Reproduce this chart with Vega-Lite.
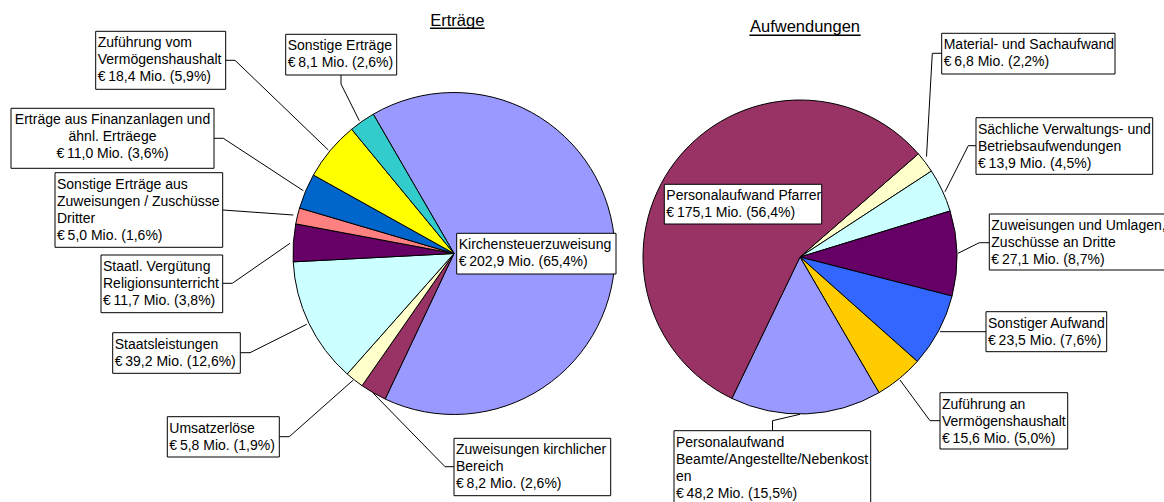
{
  "$schema": "https://vega.github.io/schema/vega-lite/v6.json",
  "width": 1164,
  "height": 502,
  "autosize": {"type": "none"},
  "padding": 0,
  "background": "white",
  "config": {"view": {"stroke": null}, "font": "Liberation Sans"},
  "datasets": {
    "slices": [
      {"pie": "Erträge", "name": "Kirchensteuerzuweisung", "value": 202.9, "pct": 65.4, "ord": 1, "label": "Kirchensteuerzuweisung\n€\u2009202,9 Mio. (65,4%)"},
      {"pie": "Erträge", "name": "Zuweisungen kirchlicher Bereich", "value": 8.2, "pct": 2.6, "ord": 2, "label": "Zuweisungen kirchlicher\nBereich\n€\u20098,2 Mio. (2,6%)"},
      {"pie": "Erträge", "name": "Umsatzerlöse", "value": 5.8, "pct": 1.9, "ord": 3, "label": "Umsatzerlöse\n€\u20095,8 Mio. (1,9%)"},
      {"pie": "Erträge", "name": "Staatsleistungen", "value": 39.2, "pct": 12.6, "ord": 4, "label": "Staatsleistungen\n€\u200939,2 Mio. (12,6%)"},
      {"pie": "Erträge", "name": "Staatl. Vergütung Religionsunterricht", "value": 11.7, "pct": 3.8, "ord": 5, "label": "Staatl. Vergütung\nReligionsunterricht\n€\u200911,7 Mio. (3,8%)"},
      {"pie": "Erträge", "name": "Sonstige Erträge aus Zuweisungen / Zuschüsse Dritter", "value": 5.0, "pct": 1.6, "ord": 6, "label": "Sonstige Erträge aus\nZuweisungen / Zuschüsse\nDritter\n€\u20095,0 Mio. (1,6%)"},
      {"pie": "Erträge", "name": "Erträge aus Finanzanlagen und ähnl. Erträege", "value": 11.0, "pct": 3.6, "ord": 7, "label": "Erträge aus Finanzanlagen und\nähnl. Erträege\n€\u200911,0 Mio. (3,6%)"},
      {"pie": "Erträge", "name": "Zuführung vom Vermögenshaushalt", "value": 18.4, "pct": 5.9, "ord": 8, "label": "Zuführung vom\nVermögenshaushalt\n€\u200918,4 Mio. (5,9%)"},
      {"pie": "Erträge", "name": "Sonstige Erträge", "value": 8.1, "pct": 2.6, "ord": 9, "label": "Sonstige Erträge\n€\u20098,1 Mio. (2,6%)"},
      {"pie": "Aufwendungen", "name": "Material- und Sachaufwand", "value": 6.8, "pct": 2.2, "ord": 1, "label": "Material- und Sachaufwand\n€\u20096,8 Mio. (2,2%)"},
      {"pie": "Aufwendungen", "name": "Sächliche Verwaltungs- und Betriebsaufwendungen", "value": 13.9, "pct": 4.5, "ord": 2, "label": "Sächliche Verwaltungs- und\nBetriebsaufwendungen\n€\u200913,9 Mio. (4,5%)"},
      {"pie": "Aufwendungen", "name": "Zuweisungen und Umlagen, Zuschüsse an Dritte", "value": 27.1, "pct": 8.7, "ord": 3, "label": "Zuweisungen und Umlagen,\nZuschüsse an Dritte\n€\u200927,1 Mio. (8,7%)"},
      {"pie": "Aufwendungen", "name": "Sonstiger Aufwand", "value": 23.5, "pct": 7.6, "ord": 4, "label": "Sonstiger Aufwand\n€\u200923,5 Mio. (7,6%)"},
      {"pie": "Aufwendungen", "name": "Zuführung an Vermögenshaushalt", "value": 15.6, "pct": 5.0, "ord": 5, "label": "Zuführung an\nVermögenshaushalt\n€\u200915,6 Mio. (5,0%)"},
      {"pie": "Aufwendungen", "name": "Personalaufwand Beamte/Angestellte/Nebenkosten", "value": 48.2, "pct": 15.5, "ord": 6, "label": "Personalaufwand\nBeamte/Angestellte/Nebenkost\nen\n€\u200948,2 Mio. (15,5%)"},
      {"pie": "Aufwendungen", "name": "Personalaufwand Pfarrer", "value": 175.1, "pct": 56.4, "ord": 7, "label": "Personalaufwand Pfarrer\n€\u2009175,1 Mio. (56,4%)"}
    ],
    "callouts": [
      {"name": "Kirchensteuerzuweisung", "x1": 456.7, "x2": 616, "y1": 233.3, "y2": 274, "tx": 458.7},
      {"name": "Zuweisungen kirchlicher Bereich", "x1": 454, "x2": 610.7, "y1": 438.3, "y2": 495.7, "tx": 456},
      {"name": "Umsatzerlöse", "x1": 167.3, "x2": 279.3, "y1": 416.7, "y2": 457, "tx": 169.3},
      {"name": "Staatsleistungen", "x1": 112.7, "x2": 240.3, "y1": 332.7, "y2": 373.3, "tx": 114.7},
      {"name": "Staatl. Vergütung Religionsunterricht", "x1": 101, "x2": 222.7, "y1": 255, "y2": 312.7, "tx": 103},
      {"name": "Sonstige Erträge aus Zuweisungen / Zuschüsse Dritter", "x1": 55, "x2": 222.7, "y1": 172.7, "y2": 247.3, "tx": 57},
      {"name": "Erträge aus Finanzanlagen und ähnl. Erträege", "x1": 11, "x2": 214, "y1": 108.3, "y2": 168.3, "tx": 112.5},
      {"name": "Zuführung vom Vermögenshaushalt", "x1": 95.7, "x2": 225.7, "y1": 31.3, "y2": 89.3, "tx": 97.7},
      {"name": "Sonstige Erträge", "x1": 285.7, "x2": 396.7, "y1": 34.3, "y2": 75, "tx": 287.7},
      {"name": "Material- und Sachaufwand", "x1": 941.7, "x2": 1115, "y1": 33.3, "y2": 74, "tx": 943.7},
      {"name": "Sächliche Verwaltungs- und Betriebsaufwendungen", "x1": 976, "x2": 1152.7, "y1": 117.7, "y2": 174.3, "tx": 978},
      {"name": "Zuweisungen und Umlagen, Zuschüsse an Dritte", "x1": 989.3, "x2": 1175, "y1": 214, "y2": 270, "tx": 991.3},
      {"name": "Sonstiger Aufwand", "x1": 986, "x2": 1106.7, "y1": 311.7, "y2": 351.7, "tx": 988},
      {"name": "Zuführung an Vermögenshaushalt", "x1": 940, "x2": 1067.7, "y1": 392.7, "y2": 449, "tx": 942},
      {"name": "Personalaufwand Beamte/Angestellte/Nebenkosten", "x1": 674, "x2": 870.7, "y1": 430.7, "y2": 515, "tx": 676},
      {"name": "Personalaufwand Pfarrer", "x1": 664.3, "x2": 821.7, "y1": 184.3, "y2": 224, "tx": 666.3}
    ],
    "leaders": [
      {"name": "Zuweisungen kirchlicher Bereich", "seq": 1, "lx": 454, "ly": 466.7},
      {"name": "Zuweisungen kirchlicher Bereich", "seq": 2, "lx": 445, "ly": 466.7},
      {"name": "Zuweisungen kirchlicher Bereich", "seq": 3, "lx": 373.3, "ly": 393.3},
      {"name": "Umsatzerlöse", "seq": 1, "lx": 279.3, "ly": 436.7},
      {"name": "Umsatzerlöse", "seq": 2, "lx": 289.3, "ly": 436.7},
      {"name": "Umsatzerlöse", "seq": 3, "lx": 353.3, "ly": 380},
      {"name": "Staatsleistungen", "seq": 1, "lx": 240.3, "ly": 352.7},
      {"name": "Staatsleistungen", "seq": 2, "lx": 250, "ly": 352.7},
      {"name": "Staatsleistungen", "seq": 3, "lx": 306.7, "ly": 324.3},
      {"name": "Staatl. Vergütung Religionsunterricht", "seq": 1, "lx": 222.7, "ly": 283.3},
      {"name": "Staatl. Vergütung Religionsunterricht", "seq": 2, "lx": 232.3, "ly": 283.3},
      {"name": "Staatl. Vergütung Religionsunterricht", "seq": 3, "lx": 290, "ly": 243.3},
      {"name": "Sonstige Erträge aus Zuweisungen / Zuschüsse Dritter", "seq": 1, "lx": 222.7, "ly": 210},
      {"name": "Sonstige Erträge aus Zuweisungen / Zuschüsse Dritter", "seq": 2, "lx": 293.3, "ly": 215},
      {"name": "Erträge aus Finanzanlagen und ähnl. Erträege", "seq": 1, "lx": 214, "ly": 138.3},
      {"name": "Erträge aus Finanzanlagen und ähnl. Erträege", "seq": 2, "lx": 223.3, "ly": 138.3},
      {"name": "Erträge aus Finanzanlagen und ähnl. Erträege", "seq": 3, "lx": 303.3, "ly": 190.7},
      {"name": "Zuführung vom Vermögenshaushalt", "seq": 1, "lx": 225.7, "ly": 60.3},
      {"name": "Zuführung vom Vermögenshaushalt", "seq": 2, "lx": 235, "ly": 60.3},
      {"name": "Zuführung vom Vermögenshaushalt", "seq": 3, "lx": 328.3, "ly": 150},
      {"name": "Sonstige Erträge", "seq": 1, "lx": 341, "ly": 75},
      {"name": "Sonstige Erträge", "seq": 2, "lx": 341, "ly": 84},
      {"name": "Sonstige Erträge", "seq": 3, "lx": 359.3, "ly": 120.7},
      {"name": "Material- und Sachaufwand", "seq": 1, "lx": 941.7, "ly": 53.3},
      {"name": "Material- und Sachaufwand", "seq": 2, "lx": 932.3, "ly": 53.3},
      {"name": "Material- und Sachaufwand", "seq": 3, "lx": 926.5, "ly": 156.5},
      {"name": "Sächliche Verwaltungs- und Betriebsaufwendungen", "seq": 1, "lx": 976, "ly": 145.7},
      {"name": "Sächliche Verwaltungs- und Betriebsaufwendungen", "seq": 2, "lx": 968.3, "ly": 145.7},
      {"name": "Sächliche Verwaltungs- und Betriebsaufwendungen", "seq": 3, "lx": 945, "ly": 191.7},
      {"name": "Zuweisungen und Umlagen, Zuschüsse an Dritte", "seq": 1, "lx": 989.3, "ly": 242.7},
      {"name": "Zuweisungen und Umlagen, Zuschüsse an Dritte", "seq": 2, "lx": 979.3, "ly": 242.7},
      {"name": "Zuweisungen und Umlagen, Zuschüsse an Dritte", "seq": 3, "lx": 958, "ly": 253.3},
      {"name": "Sonstiger Aufwand", "seq": 1, "lx": 986, "ly": 331.7},
      {"name": "Sonstiger Aufwand", "seq": 2, "lx": 940, "ly": 331.7},
      {"name": "Zuführung an Vermögenshaushalt", "seq": 1, "lx": 940, "ly": 420.7},
      {"name": "Zuführung an Vermögenshaushalt", "seq": 2, "lx": 930, "ly": 420.7},
      {"name": "Zuführung an Vermögenshaushalt", "seq": 3, "lx": 900, "ly": 380},
      {"name": "Personalaufwand Beamte/Angestellte/Nebenkosten", "seq": 1, "lx": 772.5, "ly": 430.7},
      {"name": "Personalaufwand Beamte/Angestellte/Nebenkosten", "seq": 2, "lx": 772.5, "ly": 420.7},
      {"name": "Personalaufwand Beamte/Angestellte/Nebenkosten", "seq": 3, "lx": 800, "ly": 414.3}
    ],
    "titles": [
      {"title": "Erträge", "tx": 457.3, "ty": 25.7, "ux1": 430, "ux2": 484.7, "uy": 28.2},
      {"title": "Aufwendungen", "tx": 805, "ty": 32.3, "ux1": 749.3, "ux2": 860.7, "uy": 35.3}
    ]
  },
  "layer": [
    {
      "data": {"name": "slices"},
      "transform": [{"filter": "datum.pie === 'Erträge'"}],
      "mark": {"type": "arc", "radius": 161, "stroke": "#000000", "strokeWidth": 1},
      "encoding": {
        "x": {"datum": 454, "type": "quantitative", "scale": {"domain": [0, 1164], "nice": false, "zero": false}, "axis": null},
        "y": {"datum": 253.5, "type": "quantitative", "scale": {"domain": [0, 502], "reverse": true, "nice": false, "zero": false}, "axis": null},
        "theta": {"field": "value", "type": "quantitative", "stack": true, "scale": {"range": [-0.525, 5.758]}},
        "order": {"field": "ord", "type": "quantitative"},
        "color": {
          "field": "name", "type": "nominal", "legend": null,
          "scale": {
            "domain": ["Kirchensteuerzuweisung", "Zuweisungen kirchlicher Bereich", "Umsatzerlöse", "Staatsleistungen", "Staatl. Vergütung Religionsunterricht", "Sonstige Erträge aus Zuweisungen / Zuschüsse Dritter", "Erträge aus Finanzanlagen und ähnl. Erträege", "Zuführung vom Vermögenshaushalt", "Sonstige Erträge"],
            "range": ["#9999FF", "#993366", "#FFFFCC", "#CCFFFF", "#660066", "#FF8080", "#0066CC", "#FFFF00", "#33CCCC"]
          }
        }
      }
    },
    {
      "data": {"name": "slices"},
      "transform": [{"filter": "datum.pie === 'Aufwendungen'"}],
      "mark": {"type": "arc", "radius": 157, "stroke": "#000000", "strokeWidth": 1},
      "encoding": {
        "x": {"datum": 800, "type": "quantitative", "scale": {"domain": [0, 1164], "nice": false, "zero": false}, "axis": null},
        "y": {"datum": 257, "type": "quantitative", "scale": {"domain": [0, 502], "reverse": true, "nice": false, "zero": false}, "axis": null},
        "theta": {"field": "value", "type": "quantitative", "stack": true, "scale": {"range": [0.854, 7.137]}},
        "order": {"field": "ord", "type": "quantitative"},
        "color": {
          "field": "name", "type": "nominal", "legend": null,
          "scale": {
            "domain": ["Material- und Sachaufwand", "Sächliche Verwaltungs- und Betriebsaufwendungen", "Zuweisungen und Umlagen, Zuschüsse an Dritte", "Sonstiger Aufwand", "Zuführung an Vermögenshaushalt", "Personalaufwand Beamte/Angestellte/Nebenkosten", "Personalaufwand Pfarrer"],
            "range": ["#FFFFCC", "#CCFFFF", "#660066", "#3366FF", "#FFCC00", "#9999FF", "#993366"]
          }
        }
      }
    },
    {
      "data": {"name": "leaders"},
      "mark": {"type": "line", "color": "#000000", "strokeWidth": 1},
      "encoding": {
        "x": {"field": "lx", "type": "quantitative", "scale": {"domain": [0, 1164], "nice": false, "zero": false}, "axis": null},
        "y": {"field": "ly", "type": "quantitative", "scale": {"domain": [0, 502], "reverse": true, "nice": false, "zero": false}, "axis": null},
        "detail": {"field": "name", "type": "nominal"},
        "order": {"field": "seq", "type": "quantitative"}
      }
    },
    {
      "data": {"name": "callouts"},
      "mark": {"type": "rect", "fill": "#FFFFFF", "stroke": "#000000", "strokeWidth": 1},
      "encoding": {
        "x": {"field": "x1", "type": "quantitative", "scale": {"domain": [0, 1164], "nice": false, "zero": false}, "axis": null},
        "x2": {"field": "x2"},
        "y": {"field": "y1", "type": "quantitative", "scale": {"domain": [0, 502], "reverse": true, "nice": false, "zero": false}, "axis": null},
        "y2": {"field": "y2"}
      }
    },
    {
      "data": {"name": "slices"},
      "transform": [
        {"lookup": "name", "from": {"data": {"name": "callouts"}, "key": "name", "fields": ["tx", "y1"]}},
        {"filter": "datum.name !== 'Erträge aus Finanzanlagen und ähnl. Erträege'"}
      ],
      "mark": {"type": "text", "align": "left", "baseline": "top", "dy": 5, "fontSize": 14, "lineHeight": 17, "lineBreak": "\n", "color": "#000000", "font": "Liberation Sans"},
      "encoding": {
        "x": {"field": "tx", "type": "quantitative", "scale": {"domain": [0, 1164], "nice": false, "zero": false}, "axis": null},
        "y": {"field": "y1", "type": "quantitative", "scale": {"domain": [0, 502], "reverse": true, "nice": false, "zero": false}, "axis": null},
        "text": {"field": "label", "type": "nominal"}
      }
    },
    {
      "data": {"name": "slices"},
      "transform": [
        {"lookup": "name", "from": {"data": {"name": "callouts"}, "key": "name", "fields": ["tx", "y1"]}},
        {"filter": "datum.name === 'Erträge aus Finanzanlagen und ähnl. Erträege'"}
      ],
      "mark": {"type": "text", "align": "center", "baseline": "top", "dy": 5, "fontSize": 14, "lineHeight": 17, "lineBreak": "\n", "color": "#000000", "font": "Liberation Sans"},
      "encoding": {
        "x": {"field": "tx", "type": "quantitative", "scale": {"domain": [0, 1164], "nice": false, "zero": false}, "axis": null},
        "y": {"field": "y1", "type": "quantitative", "scale": {"domain": [0, 502], "reverse": true, "nice": false, "zero": false}, "axis": null},
        "text": {"field": "label", "type": "nominal"}
      }
    },
    {
      "data": {"name": "titles"},
      "mark": {"type": "text", "align": "center", "baseline": "alphabetic", "fontSize": 16.5, "color": "#000000", "font": "Liberation Sans"},
      "encoding": {
        "x": {"field": "tx", "type": "quantitative", "scale": {"domain": [0, 1164], "nice": false, "zero": false}, "axis": null},
        "y": {"field": "ty", "type": "quantitative", "scale": {"domain": [0, 502], "reverse": true, "nice": false, "zero": false}, "axis": null},
        "text": {"field": "title", "type": "nominal"}
      }
    },
    {
      "data": {"name": "titles"},
      "mark": {"type": "rule", "color": "#000000", "strokeWidth": 1.5},
      "encoding": {
        "x": {"field": "ux1", "type": "quantitative", "scale": {"domain": [0, 1164], "nice": false, "zero": false}, "axis": null},
        "x2": {"field": "ux2"},
        "y": {"field": "uy", "type": "quantitative", "scale": {"domain": [0, 502], "reverse": true, "nice": false, "zero": false}, "axis": null}
      }
    }
  ],
  "resolve": {"scale": {"theta": "independent", "color": "independent"}}
}
